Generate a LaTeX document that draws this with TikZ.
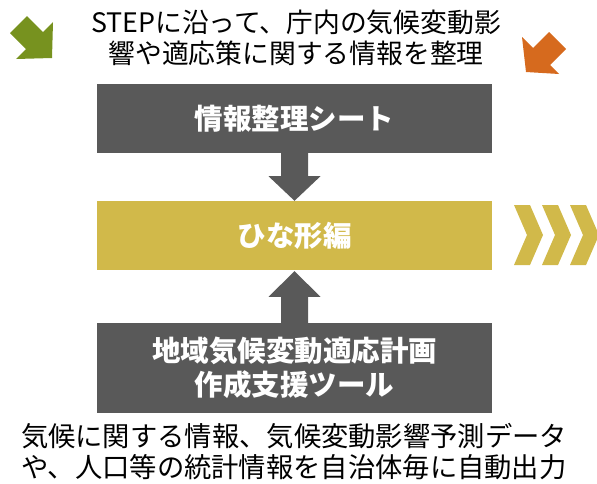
\documentclass[tikz,border=0pt]{standalone}
\usepackage{fontspec}
\setmainfont{Noto Sans CJK JP}
\usetikzlibrary{calc}
\definecolor{boxgray}{HTML}{595959}
\definecolor{boxyellow}{HTML}{D1B94A}
\definecolor{arrgreen}{HTML}{77921F}
\definecolor{arrorange}{HTML}{D66A1E}
\tikzset{
  graybox/.style={fill=boxgray, text=white, minimum width=395pt, inner sep=0pt,
    font=\bfseries\fontsize{28.5}{34}\selectfont, align=center},
  yellowbox/.style={fill=boxyellow, text=white, minimum width=395pt, minimum height=69pt, inner sep=0pt,
    font=\bfseries\fontsize{28.5}{34}\selectfont},
  plaintext/.style={text=black, inner sep=0pt, align=center},
  blockarrow/.style={fill=boxgray}
}
\begin{document}
\begin{tikzpicture}[x=1pt,y=-1pt]
\useasboundingbox (0,0) rectangle (597,483);
\clip (0,0) rectangle (597,483);
% top text
\node[plaintext, font=\fontsize{26.8}{31}\selectfont] (top) at (296,37.5)
  {STEPに沿って、庁内の気候変動影\\響や適応策に関する情報を整理};
% boxes
\node[graybox, minimum height=69pt] (b1) at (294.5,118.5) {情報整理シート};
\node[yellowbox] (b2) at (294.5,235.5) {ひな形編};
\node[graybox, minimum height=90pt] (b3) at (294.5,368) {地域気候変動適応計画\\作成支援ツール};
% bottom text
\node[plaintext, font=\fontsize{27.3}{31}\selectfont] (bot) at (294,451.5)
  {気候に関する情報、気候変動影響予測データ\\や、人口等の統計情報を自治体毎に自動出力};
% down arrow b1 -> b2
\fill[blockarrow] ($(b1.south)+(-13.5,0)$) -- ($(b1.south)+(13.5,0)$) -- ($(b1.south)+(13.5,23)$)
  -- ($(b1.south)+(26,23)$) -- (b2.north) -- ($(b1.south)+(-26,23)$) -- ($(b1.south)+(-13.5,23)$) -- cycle;
% up arrow b3 -> b2
\fill[blockarrow] ($(b3.north)+(-13.5,0)$) -- ($(b3.north)+(13.5,0)$) -- ($(b3.north)+(13.5,-26)$)
  -- ($(b3.north)+(26,-26)$) -- ($(b2.south)+(0,1)$) -- ($(b3.north)+(-26,-26)$) -- ($(b3.north)+(-13.5,-26)$) -- cycle;
% green arrow
\fill[arrgreen] (10,33) -- (27,16) -- (43,32) -- (53,22) -- (52,58) -- (16,59) -- (26,49) -- cycle;
% orange arrow
\fill[arrorange] (566,49) -- (549,32) -- (533,48) -- (522,37) -- (526,72) -- (559,74) -- (550,65) -- cycle;
% chevrons
\foreach \x in {514,542,570}{
  \fill[boxyellow] (\x,205) -- (\x+16,205) -- (\x+29,235) -- (\x+16,265) -- (\x,265) -- (\x+13,235) -- cycle;
}
\end{tikzpicture}
\end{document}
